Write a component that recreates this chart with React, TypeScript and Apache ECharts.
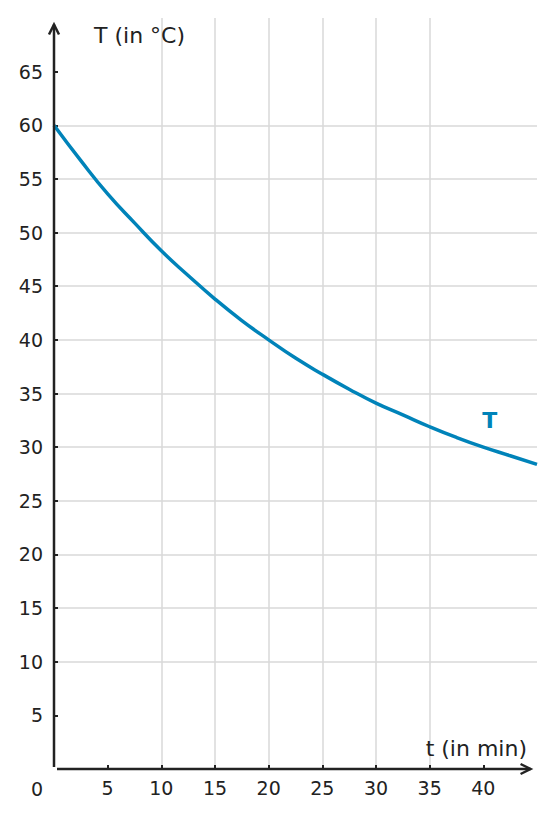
import React, { useEffect, useRef } from "react";
import * as echarts from "echarts";

const tValues = [0, 2.5, 5, 7.5, 10, 12.5, 15, 17.5, 20, 22.5, 25, 27.5, 30, 32.5, 35, 37.5, 40, 42.5, 45];
const tempValues = [60, 56.7, 53.6, 50.9, 48.3, 46.0, 43.8, 41.8, 40.0, 38.3, 36.8, 35.4, 34.1, 33.0, 31.9, 30.9, 30.0, 29.2, 28.4];
const xTicks = [5, 10, 15, 20, 25, 30, 35, 40];
const yTicks = [5, 10, 15, 20, 25, 30, 35, 40, 45, 50, 55, 60, 65];
const seriesName = "T";
const xTitle = "t (in min)";
const yTitle = "T (in °C)";

const FONT = "DejaVu Sans";
const INK = "#222222";
const GRID = "#d9d9d9";
const BLUE = "#0083b9";

export default function App() {
  const ref = useRef<HTMLDivElement>(null);
  useEffect(() => {
    if (!ref.current) return;
    const chart = echarts.init(ref.current, undefined, { renderer: "svg" });
    const data = tValues.map((t, i) => [t, tempValues[i]]);
    chart.setOption({
      animation: false,
      grid: { left: 54, right: 17, top: 18, bottom: 48, containLabel: false },
      xAxis: {
        type: "value",
        min: 0,
        max: 45,
        interval: 5,
        axisLine: { show: false },
        axisTick: {
          show: true,
          inside: true,
          length: 4,
          customValues: xTicks,
          lineStyle: { color: INK, width: 2 },
        },
        axisLabel: {
          customValues: xTicks,
          color: INK,
          fontFamily: FONT,
          fontSize: 19,
          margin: 9,
        },
        splitLine: { show: true, showMinLine: false, showMaxLine: false, lineStyle: { color: GRID, width: 1.5 } },
      },
      yAxis: {
        type: "value",
        min: 0,
        max: 70,
        interval: 5,
        axisLine: { show: false },
        axisTick: {
          show: true,
          inside: true,
          length: 4,
          customValues: yTicks,
          lineStyle: { color: INK, width: 2 },
        },
        axisLabel: {
          customValues: yTicks,
          color: INK,
          fontFamily: FONT,
          fontSize: 19,
          margin: 11,
        },
        splitLine: { show: true, showMinLine: false, showMaxLine: false, lineStyle: { color: GRID, width: 1.5 } },
      },
      series: [
        {
          name: seriesName,
          type: "line",
          data,
          smooth: true,
          showSymbol: false,
          lineStyle: { color: BLUE, width: 3.5 },
          z: 5,
        },
      ],
    });

    const o = chart.convertToPixel({ gridIndex: 0 }, [0, 0]) as number[];
    const yTip = chart.convertToPixel({ gridIndex: 0 }, [0, 69.4]) as number[];
    const xTip = chart.convertToPixel({ gridIndex: 0 }, [44.4, 0]) as number[];
    const lab = chart.convertToPixel({ gridIndex: 0 }, [40.6, 32.5]) as number[];
    const axisStyle = { stroke: INK, lineWidth: 2.5, fill: "none" };
    chart.setOption({
      graphic: [
        { type: "line", shape: { x1: o[0], y1: o[1] - 2, x2: yTip[0], y2: yTip[1] }, style: axisStyle, z: 10 },
        { type: "polyline", shape: { points: [[yTip[0] - 5, yTip[1] + 10], [yTip[0], yTip[1]], [yTip[0] + 5, yTip[1] + 10]] }, style: axisStyle, z: 10 },
        { type: "line", shape: { x1: o[0] + 3, y1: o[1], x2: xTip[0], y2: xTip[1] }, style: axisStyle, z: 10 },
        { type: "polyline", shape: { points: [[xTip[0] - 10, xTip[1] - 5], [xTip[0], xTip[1]], [xTip[0] - 10, xTip[1] + 5]] }, style: axisStyle, z: 10 },
        { type: "text", x: o[0] - 17, y: o[1] + 20, style: { text: "0", fill: INK, font: `19px '${FONT}'`, align: "center", verticalAlign: "middle" } },
        { type: "text", x: 94, y: 35, style: { text: yTitle, fill: INK, font: `22px '${FONT}'`, align: "left", verticalAlign: "middle" } },
        { type: "text", x: 527, y: 748, style: { text: xTitle, fill: INK, font: `22px '${FONT}'`, align: "right", verticalAlign: "middle" } },
        { type: "text", x: lab[0], y: lab[1], style: { text: seriesName, fill: BLUE, font: `bold 22px '${FONT}'`, align: "center", verticalAlign: "middle" } },
      ],
    });
    return () => chart.dispose();
  }, []);
  return <div ref={ref} style={{ width: 554, height: 817, position: "absolute", left: 0, top: 0 }} />;
}
